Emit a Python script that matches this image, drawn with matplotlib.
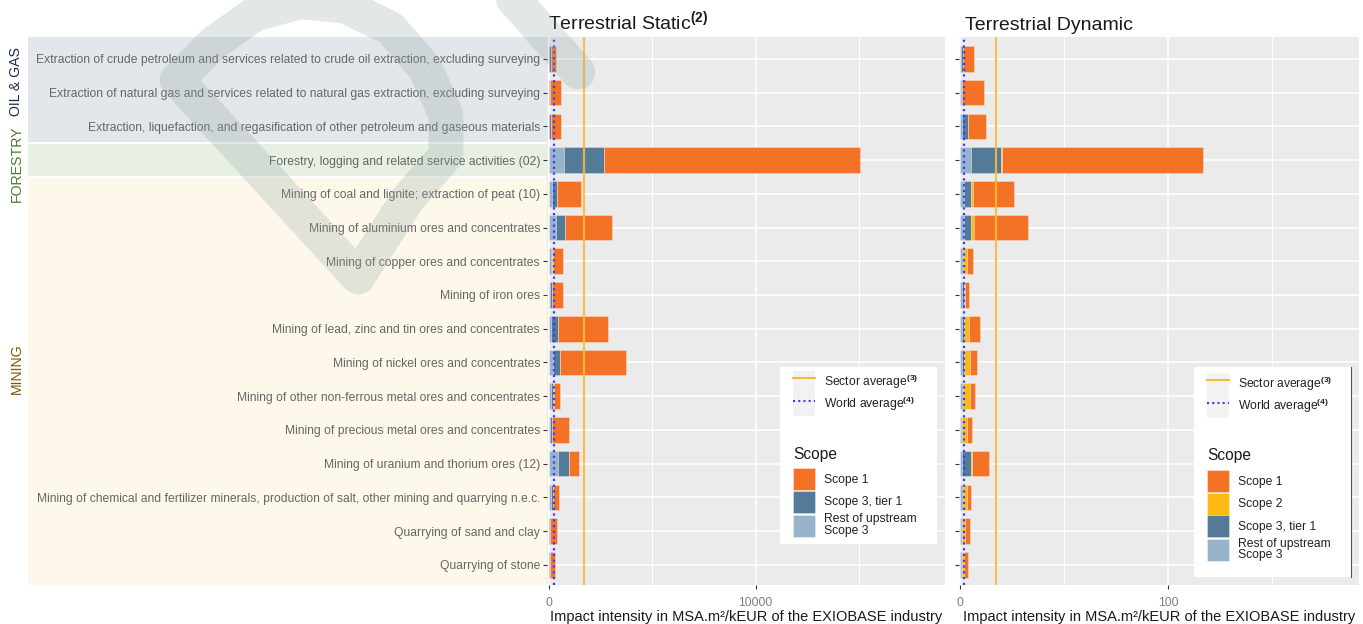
"""Impact intensity per EXIOBASE activity, terrestrial static vs dynamic"""

import matplotlib

matplotlib.use("Agg")
import matplotlib.pyplot as plt  # noqa: E402
import matplotlib.transforms as mtransforms  # noqa: E402
import numpy as np  # noqa: E402
from matplotlib.lines import Line2D  # noqa: E402
from matplotlib.patches import Patch, Rectangle  # noqa: E402

plt.rcParams["font.family"] = ["Liberation Sans", "DejaVu Sans"]
plt.rcParams["mathtext.fontset"] = "custom"
plt.rcParams["mathtext.rm"] = "Liberation Sans"
plt.rcParams["mathtext.bf"] = "Liberation Sans:bold"

activities = [
    "Extraction of crude petroleum and services related to crude oil extraction, excluding surveying",
    "Extraction of natural gas and services related to natural gas extraction, excluding surveying",
    "Extraction, liquefaction, and regasification of other petroleum and gaseous materials",
    "Forestry, logging and related service activities (02)",
    "Mining of coal and lignite; extraction of peat (10)",
    "Mining of aluminium ores and concentrates",
    "Mining of copper ores and concentrates",
    "Mining of iron ores",
    "Mining of lead, zinc and tin ores and concentrates",
    "Mining of nickel ores and concentrates",
    "Mining of other non-ferrous metal ores and concentrates",
    "Mining of precious metal ores and concentrates",
    "Mining of uranium and thorium ores (12)",
    "Mining of chemical and fertilizer minerals, production of salt, other mining and quarrying n.e.c.",
    "Quarrying of sand and clay",
    "Quarrying of stone",
]
group_names = ["OIL & GAS", "FORESTRY", "MINING"]
group_first = [0, 3, 4]
group_last = [2, 3, 15]

scopes = ["Rest of upstream\nScope 3", "Scope 3, tier 1", "Scope 2", "Scope 1"]

# static (MSA.m2/kEUR)
static_rest = [40, 30, 40, 740, 150, 340, 100, 90, 120, 200, 110, 80, 450, 140, 40, 30]
static_tier1 = [60, 30, 80, 1920, 250, 430, 60, 70, 330, 330, 90, 70, 515, 80, 30, 30]
static_scope2 = [0, 0, 0, 0, 30, 40, 50, 10, 20, 40, 40, 20, 30, 10, 10, 10]
static_scope1 = [270, 520, 480, 12360, 1115, 2265, 480, 510, 2395, 3150, 320, 795, 485, 285, 305, 250]
static_sector_avg = 1690
static_world_avg = 270

# dynamic
dyn_rest = [0.7, 0.5, 1.1, 5.4, 2.0, 2.2, 1.1, 1.0, 1.1, 1.2, 1.0, 0.6, 1.1, 1.0, 0.6, 0.6]
dyn_tier1 = [0.8, 0.4, 2.9, 14.3, 3.6, 3.1, 0.6, 0.9, 0.9, 0.8, 0.6, 0.5, 4.2, 0.6, 0.5, 0.5]
dyn_scope2 = [0.2, 0.2, 0.2, 0.5, 0.8, 1.6, 2.0, 0.4, 2.5, 2.8, 3.4, 2.3, 0.5, 1.8, 1.4, 0.9]
dyn_scope1 = [5.0, 10.6, 8.6, 96.4, 19.4, 25.9, 2.8, 2.2, 5.1, 3.7, 2.4, 2.7, 8.0, 2.2, 2.3, 2.1]
dyn_sector_avg = 17.5
dyn_world_avg = 1.9

SCOPE_COLORS = ["#98B3CC", "#537A99", "#FDB913", "#F37226"]
SECTOR_COLOR = "#FBB93C"
WORLD_COLOR = "#3B3BFF"
BAND_COLORS = ["#E3E7EC", "#E8F0E4", "#FDF8EA"]
GROUP_COLORS = ["#1C2B4A", "#4A7C2A", "#7A5A00"]

W, H = 1363, 624


def px_box(x0, x1, y0, y1):
    """pixel box (y from top) to figure fraction rect"""
    return [x0 / W, 1 - y1 / H, (x1 - x0) / W, (y1 - y0) / H]


def draw_panel(ax, series, sector, world, xlim, major, minor, title):
    ypos = np.arange(len(activities))
    left = np.zeros(len(activities))
    for vals, color in zip(series, SCOPE_COLORS):
        ax.barh(ypos, vals, left=left, height=0.76, color=color,
                edgecolor=(1, 1, 1, 0.35), linewidth=0.6, zorder=2)
        left = left + np.array(vals)
    ax.axvline(sector, color=SECTOR_COLOR, lw=1.6, alpha=0.9, zorder=3)
    ax.axvline(world, color=WORLD_COLOR, lw=1.6, ls=(0, (1, 1.6)), zorder=3)

    ax.set_facecolor("#EBEBEB")
    ax.set_xlim(*xlim)
    ax.set_ylim(len(activities) - 0.4, -0.65)
    ax.set_xticks(major)
    ax.set_xticks(minor, minor=True)
    ax.set_yticks(ypos)
    ax.set_axisbelow(True)
    ax.grid(True, which="major", color="white", lw=1.2)
    ax.grid(True, which="minor", axis="x", color="white", lw=0.7)
    for s in ax.spines.values():
        s.set_visible(False)
    ax.tick_params(axis="x", which="major", length=3, color="#333333",
                   labelcolor="#7F7F7F", labelsize=8.7, pad=5.5)
    ax.tick_params(axis="x", which="minor", length=0)
    ax.tick_params(axis="y", length=3, color="#333333", labelcolor="#666666",
                   labelsize=8.7, pad=2)
    ax.set_xlabel("Impact intensity in MSA.m²/kEUR of the EXIOBASE industry",
                  fontsize=10.5, color="#1A1A1A", labelpad=1)
    ax.text(title[1], 1.012, title[0], transform=ax.transAxes, fontsize=14,
            color="#1A1A1A", ha="left", va="baseline")


def draw_legend(ax, with_scope2, box, key_x, top_lines, y_title, top_scope,
                right_rule=False):
    ax.add_patch(Rectangle(box[:2], box[2], box[3], transform=ax.transAxes,
                           facecolor="white", edgecolor="none", zorder=4))
    if right_rule:
        ax.add_line(Line2D([box[0] + box[2]] * 2, [box[1], box[1] + box[3]],
                           transform=ax.transAxes, color="#555555", lw=0.8, zorder=4))
    key_bg = Patch(facecolor="#F2F2F2", edgecolor="none")
    lines = [
        (key_bg, Line2D([], [], color=SECTOR_COLOR, lw=1.5)),
        (key_bg, Line2D([], [], color=WORLD_COLOR, lw=1.5, ls=(0, (1, 1.5)))),
    ]
    leg_a = ax.legend(lines, [r"Sector average$^{\mathbf{(3)}}$",
                              r"World average$^{\mathbf{(4)}}$"],
                      loc="upper left", bbox_to_anchor=(key_x, top_lines),
                      frameon=False, fontsize=8.7, handlelength=1.82,
                      handleheight=2.49, labelspacing=0.0, borderpad=0,
                      borderaxespad=0, handletextpad=0.74, labelcolor="#222222")
    leg_a.set_zorder(5)
    ax.add_artist(leg_a)

    ax.text(key_x, y_title, "Scope", transform=ax.transAxes, fontsize=11.2,
            color="#1A1A1A", ha="left", va="center", zorder=6)
    order = [3, 2, 1, 0] if with_scope2 else [3, 1, 0]
    handles = [Patch(facecolor=SCOPE_COLORS[i], edgecolor=(1, 1, 1, 0.4), lw=0.6)
               for i in order]
    leg_b = ax.legend(handles, [scopes[i] for i in order], loc="upper left",
                      bbox_to_anchor=(key_x, top_scope), frameon=False, fontsize=8.7,
                      handlelength=1.82, handleheight=2.42, labelspacing=0.06,
                      borderpad=0, borderaxespad=0, handletextpad=0.74,
                      labelcolor="#222222")
    leg_b.get_texts()[-1].set_linespacing(0.92)
    leg_b.set_zorder(5)


fig = plt.figure(figsize=(W / 100, H / 100), dpi=100)
ax_s = fig.add_axes(px_box(547, 945, 37, 585))
ax_d = fig.add_axes(px_box(959, 1359, 37, 585))

draw_panel(ax_s, [static_rest, static_tier1, static_scope2, static_scope1],
           static_sector_avg, static_world_avg, (-75, 19140), [0, 10000],
           [5000, 15000], (r"Terrestrial Static$^{\mathbf{(2)}}$", 0.002))
draw_panel(ax_d, [dyn_rest, dyn_tier1, dyn_scope2, dyn_scope1],
           dyn_sector_avg, dyn_world_avg, (-0.35, 191.5), [0, 100],
           [50, 150], ("Terrestrial Dynamic", 0.015))
ax_s.set_yticklabels(activities)
ax_d.set_yticklabels([])

draw_legend(ax_s, False, (0.585, 0.075, 0.394, 0.323), 0.618, 0.3905, 0.239, 0.2135)
draw_legend(ax_d, True, (0.5875, 0.0146, 0.3925, 0.383), 0.62, 0.3874, 0.2372, 0.2099,
            right_rule=True)

# group bands behind the activity labels
band_tr = mtransforms.blended_transform_factory(fig.transFigure, ax_s.transData)
y_top, y_bot = ax_s.get_ylim()[1], ax_s.get_ylim()[0]
for k, (first, last) in enumerate(zip(group_first, group_last)):
    y0 = y_top if first == 0 else first - 0.5 + 0.035
    y1 = y_bot if last == len(activities) - 1 else last + 0.5 - 0.035
    fig.add_artist(Rectangle((28 / W, y0), (547 - 28) / W, y1 - y0, transform=band_tr,
                             facecolor=BAND_COLORS[k], edgecolor="none", zorder=0))

label_rows = [1.68, 4.1, 10.2]
for name, row, color in zip(group_names, label_rows, GROUP_COLORS):
    fig.text(16.5 / W, row - 1, name, transform=band_tr, rotation=90, fontsize=10.2,
             color=color, ha="center", va="center")

# faint logo watermark over the left part
ring = [(177, 80), (215, 42), (255, 14), (300, 2), (345, 6), (390, 28), (425, 68),
        (446, 115), (446, 155), (407, 200), (358, 277), (177, 80)]
stroke = [(492, -25), (578, 72)]
for pts in (ring, stroke):
    xs = [p[0] / W for p in pts]
    ys = [1 - p[1] / H for p in pts]
    fig.add_artist(Line2D(xs, ys, transform=fig.transFigure, lw=25, color="#8FA3A3",
                          alpha=0.25, solid_joinstyle="round", solid_capstyle="round",
                          zorder=10))

fig.savefig("out.png", dpi=100)
